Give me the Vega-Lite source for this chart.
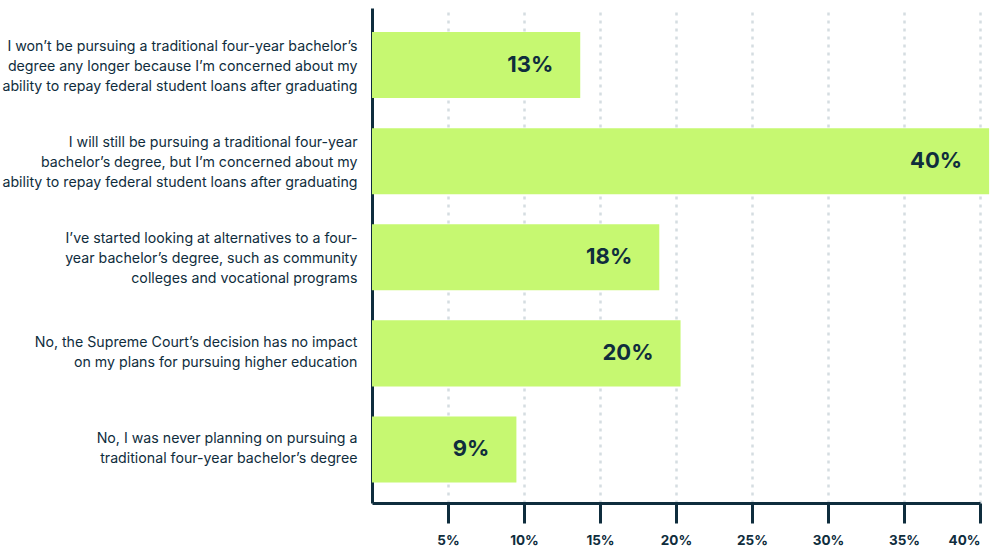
{
  "$schema": "https://vega.github.io/schema/vega-lite/v6.json",
  "autosize": "none",
  "width": 608,
  "height": 495,
  "padding": {"left": 372, "top": 8, "right": 20, "bottom": 49},
  "background": "white",
  "config": {"view": {"stroke": null}, "font": "Inter"},
  "data": {
    "values": [
      {"label": "I won’t be pursuing a traditional four-year bachelor’s|degree any longer because I’m concerned about my|ability to repay federal student loans after graduating", "value": 13.7, "text": "13%", "order": 1},
      {"label": "I will still be pursuing a traditional four-year|bachelor’s degree, but I’m concerned about my|ability to repay federal student loans after graduating", "value": 40.6, "text": "40%", "order": 2},
      {"label": "I’ve started looking at alternatives to a four-|year bachelor’s degree, such as community|colleges and vocational programs", "value": 18.9, "text": "18%", "order": 3},
      {"label": "No, the Supreme Court’s decision has no impact|on my plans for pursuing higher education", "value": 20.3, "text": "20%", "order": 4},
      {"label": "No, I was never planning on pursuing a|traditional four-year bachelor’s degree", "value": 9.5, "text": "9%", "order": 5}
    ]
  },
  "encoding": {
    "y": {
      "field": "label", "type": "nominal", "sort": {"field": "order"},
      "scale": {"paddingInner": 0.313, "paddingOuter": 0.232, "align": 0.54},
      "axis": {
        "title": null, "ticks": false, "labelPadding": 15,
        "labelExpr": "split(datum.label, '|')",
        "labelOffset": {"condition": {"test": "indexof(datum.value, 'No,') == 0", "value": -10}, "value": -18.5},
        "labelFont": "Inter", "labelFontSize": 14.2, "labelLineHeight": 20,
        "labelColor": "#0f2d3d", "labelLimit": 400,
        "domainColor": "#0f2d3d", "domainWidth": 3
      }
    },
    "x": {
      "field": "value", "type": "quantitative",
      "scale": {"domain": [0, 40], "nice": false},
      "axis": {
        "title": null, "values": [5, 10, 15, 20, 25, 30, 35, 40],
        "labelExpr": "datum.value + '%'",
        "labelFont": "Inter", "labelFontSize": 13.5, "labelFontWeight": "bold",
        "labelColor": "#0f2d3d", "labelPadding": 10,
        "tickSize": 20, "tickWidth": 3, "tickColor": "#0f2d3d",
        "domainColor": "#0f2d3d", "domainWidth": 3,
        "grid": true, "gridColor": "#d5dde1", "gridWidth": 2.5, "gridDash": [3, 5]
      }
    }
  },
  "layer": [
    {"mark": {"type": "bar", "color": "#c6f871"}},
    {
      "mark": {"type": "text", "align": "right", "dx": -27, "font": "Inter", "fontSize": 22, "fontWeight": "bold", "color": "#0f2d3d", "baseline": "middle"},
      "encoding": {"text": {"field": "text"}}
    }
  ]
}
